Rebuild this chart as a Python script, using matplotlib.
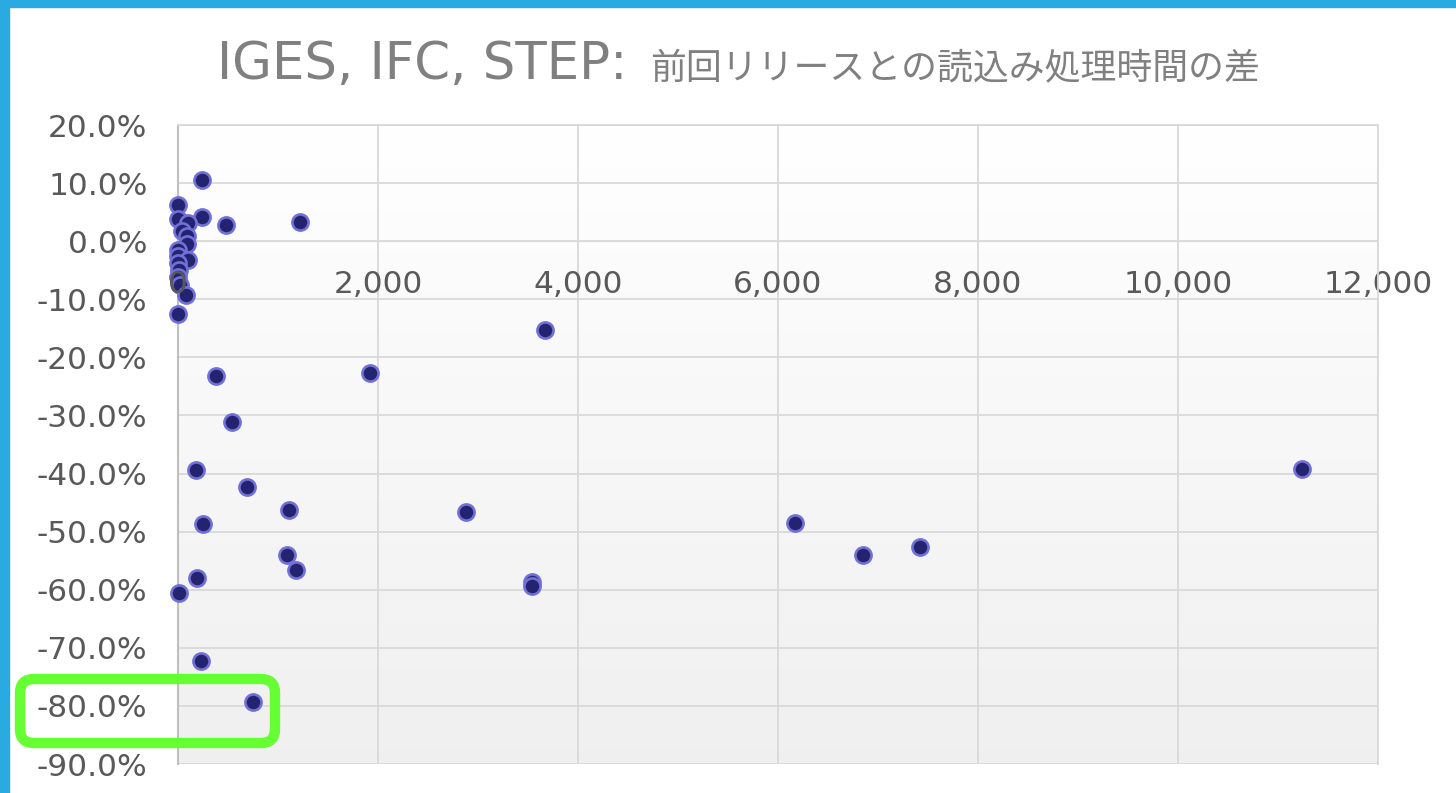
import numpy as np
import matplotlib.pyplot as plt
from matplotlib.patches import Rectangle, FancyBboxPatch
from matplotlib.ticker import PercentFormatter, FuncFormatter

plt.rcParams['axes.unicode_minus'] = False

# read time (x) vs. change from previous release (y, %)
read_time = [3, 243, 0, 103, 483, 1217, 243, 43, 87, 87, 0, 0, 103, 0, 5, 0, 20, 77, 0,
             3670, 380, 1920, 540, 180, 690, 1110, 250, 2880, 1090, 1180, 190, 10,
             3540, 3540, 230, 750, 11240, 6170, 6850, 7420]
diff_pct = [6.2, 4.2, 3.8, 3.2, 2.7, 3.3, 10.5, 1.8, 0.9, -0.5, -1.5, -2.5, -3.2, -3.8, -5.0, -6.2, -7.5, -9.3, -12.5,
            -15.3, -23.2, -22.7, -31.1, -39.4, -42.3, -46.3, -48.7, -46.6, -54.0, -56.6, -58.0, -60.6,
            -58.7, -59.3, -72.3, -79.3, -39.2, -48.5, -54.0, -52.6]
x_ticks = [0, 2000, 4000, 6000, 8000, 10000, 12000]
y_ticks = [20, 10, 0, -10, -20, -30, -40, -50, -60, -70, -80, -90]
title_latin = "IGES, IFC, STEP:"
title_jp = "前回リリースとの読込み処理時間の差"

W, H = 1456, 793
fig = plt.figure(figsize=(W / 100, H / 100), dpi=100)
ax = fig.add_axes([178 / W, 1 - 764 / H, 1200 / W, 639 / H])

# gradient plot area
grad = np.linspace(1.0, 0.94, 256).reshape(-1, 1)
ax.imshow(np.dstack([grad, grad, grad]), extent=[0, 1, 0, 1], transform=ax.transAxes,
          aspect='auto', zorder=0)

ax.scatter(read_time, diff_pct, s=135, color='#232370', edgecolor='#7070D6',
           linewidth=1.9, zorder=3, clip_on=False)

ax.set_xlim(0, 12000)
ax.set_ylim(-90, 20)
ax.set_xticks(x_ticks)
ax.set_yticks(y_ticks)
# "0" is drawn separately so it sits on top of the markers
ax.xaxis.set_major_formatter(FuncFormatter(lambda v, p: f"{int(v):,}" if v != 0 else ""))
ax.yaxis.set_major_formatter(PercentFormatter(decimals=1))
ax.grid(True, color='#D9D9D9', linewidth=1.3)
ax.tick_params(length=0, labelsize=22.5, labelcolor='#595959')
ax.tick_params(axis='x', pad=21)
ax.tick_params(axis='y', pad=22)
ax.annotate("0", xy=(x_ticks[0], 0), xycoords='data', xytext=(0, -21),
            textcoords='offset points', ha='center', va='top', fontsize=22.5,
            color='#595959', zorder=5, annotation_clip=False)

ax.spines['bottom'].set_position(('data', 0))
ax.spines['bottom'].set_color('#D9D9D9')
ax.spines['left'].set_color('#BFBFBF')
ax.spines['left'].set_linewidth(1.5)
for s in ['top', 'right']:
    ax.spines[s].set_color('#D9D9D9')
    ax.spines[s].set_linewidth(1.3)

# title: latin part + japanese part
fig.text(422 / W, 1 - 79 / H, title_latin, fontsize=37, color='#808080',
         ha='center', va='baseline', family='DejaVu Sans')
fig.text(650 / W, 1 - 79 / H, title_jp, fontsize=25.8, color='#808080',
         ha='left', va='baseline', family=['Noto Sans CJK JP', 'DejaVu Sans'])

# blue frame on top and left
fig.patches.append(Rectangle((0, 1 - 7 / H), 1, 7 / H, transform=fig.transFigure,
                             color='#29ABE2', zorder=5))
fig.patches.append(Rectangle((0, 0), 8.5 / W, 1, transform=fig.transFigure,
                             color='#29ABE2', zorder=5))

# green highlight box (inches)
box = FancyBboxPatch((20 / 100, 50 / 100), 255 / 100, 64 / 100,
                     boxstyle='round,pad=0,rounding_size=0.14',
                     transform=fig.dpi_scale_trans, fill=False,
                     edgecolor='#66FF33', linewidth=7.5, zorder=10)
fig.patches.append(box)

fig.savefig('out.png', dpi=100)
